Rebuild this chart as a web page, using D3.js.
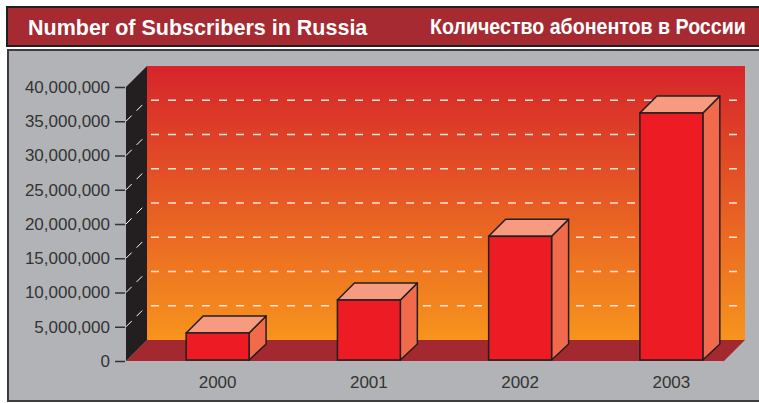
<!DOCTYPE html>
<html>
<head>
<meta charset="utf-8">
<script src="https://cdn.jsdelivr.net/npm/d3@7"></script>
<style>
  body { margin: 0; background: #fff; }
  text { font-family: "Liberation Sans", Arial, sans-serif; }
</style>
</head>
<body>
<div id="chart"></div>
<script>
// data
const years = ["2000", "2001", "2002", "2003"];
const subscribers = [4100000, 8900000, 18200000, 36200000];
const yTicks = [0, 5000000, 10000000, 15000000, 20000000, 25000000, 30000000, 35000000, 40000000];
const titleEn = "Number of Subscribers in Russia";
const titleRu = "Количество абонентов в России";

const W = 759, H = 403;
const wallDepth = 21, barDepth = 17;

const svg = d3.select("#chart").append("svg")
    .attr("width", W)
    .attr("height", H);

// gradient for the back wall
const defs = svg.append("defs");
const grad = defs.append("linearGradient")
    .attr("id", "wallGrad")
    .attr("x1", 0).attr("y1", 0).attr("x2", 0).attr("y2", 1);
grad.append("stop").attr("offset", "0%").attr("stop-color", "#d6242b");
grad.append("stop").attr("offset", "100%").attr("stop-color", "#f7941d");

// title bar
svg.append("rect")
    .attr("x", 7).attr("y", 7)
    .attr("width", 770).attr("height", 39)
    .attr("fill", "#a52a31")
    .attr("stroke", "#231f20")
    .attr("stroke-width", 2);

svg.append("text")
    .attr("x", 28).attr("y", 35)
    .attr("fill", "#fff")
    .attr("font-size", 21.5)
    .attr("font-weight", "bold")
    .text(titleEn);

// russian title is condensed: squeeze it horizontally to fit
const ru = svg.append("text")
    .attr("x", 0).attr("y", 0)
    .attr("fill", "#fff")
    .attr("font-size", 22)
    .attr("font-weight", "bold")
    .text(titleRu);
const ruW = ru.node().getComputedTextLength();
ru.attr("transform", `translate(430,34) scale(${316 / ruW},1)`);

// gray panel
svg.append("rect")
    .attr("x", 8).attr("y", 50)
    .attr("width", 770).attr("height", 351)
    .attr("fill", "#b2b3b6")
    .attr("stroke", "#3c3c3e")
    .attr("stroke-width", 2);

// scales
const y = d3.scaleLinear()
    .domain([0, 40000000])
    .range([361, 87]);

const x = d3.scaleBand()
    .domain(years)
    .range([142, 747])
    .paddingInner(0.584)
    .paddingOuter(0.292);

const left = 126, right = 724;
const y0 = y(0);

// back wall
svg.append("rect")
    .attr("x", left + wallDepth)
    .attr("y", y(40000000) - wallDepth)
    .attr("width", right - left)
    .attr("height", y0 - y(40000000))
    .attr("fill", "url(#wallGrad)");

// dashed gridlines on the back wall
svg.append("g")
    .selectAll("line")
    .data(yTicks.filter(d => d > 0 && d < 40000000))
    .join("line")
    .attr("x1", left + wallDepth + 4)
    .attr("x2", right + wallDepth)
    .attr("y1", d => y(d) - wallDepth)
    .attr("y2", d => y(d) - wallDepth)
    .attr("stroke", "#fbe3d8")
    .attr("stroke-width", 1.3)
    .attr("stroke-dasharray", "8,9");

// floor
svg.append("polygon")
    .attr("points", [
        [left, y0], [left + wallDepth, y0 - wallDepth],
        [right + wallDepth, y0 - wallDepth], [right, y0]
    ].join(" "))
    .attr("fill", "#a3282f");

// left wall
svg.append("polygon")
    .attr("points", [
        [left, y0], [left, y(40000000)],
        [left + wallDepth, y(40000000) - wallDepth], [left + wallDepth, y0 - wallDepth]
    ].join(" "))
    .attr("fill", "#231f20");

// slashes on the left wall
svg.append("g")
    .selectAll("line")
    .data(yTicks.filter(d => d > 0 && d < 40000000))
    .join("line")
    .attr("x1", left)
    .attr("y1", d => y(d))
    .attr("x2", left + wallDepth)
    .attr("y2", d => y(d) - wallDepth)
    .attr("stroke", "#fff")
    .attr("stroke-width", 1)
    .attr("stroke-dasharray", "8,7");

// y axis
const yAxis = svg.append("g")
    .attr("transform", `translate(${left - 1},0)`)
    .call(d3.axisLeft(y)
        .tickValues(yTicks)
        .tickFormat(d3.format(","))
        .tickSize(10)
        .tickPadding(5));
yAxis.select(".domain").remove();
yAxis.selectAll(".tick line").attr("stroke", "#333").attr("stroke-width", 1.5);
yAxis.selectAll(".tick text")
    .attr("fill", "#333")
    .attr("font-size", 17)
    .attr("font-family", "'Liberation Sans', Arial, sans-serif");

// bars
const bars = svg.append("g")
    .selectAll("g")
    .data(years.map((yr, i) => ({ year: yr, value: subscribers[i] })))
    .join("g");

const bw = x.bandwidth();

bars.append("polygon") // side
    .attr("points", d => {
        const bx = x(d.year), by = y(d.value);
        return [[bx + bw, by], [bx + bw + barDepth, by - barDepth],
            [bx + bw + barDepth, y0 - barDepth], [bx + bw, y0 - 1]].join(" ");
    })
    .attr("fill", "#f26a4c")
    .attr("stroke", "#231f20")
    .attr("stroke-width", 1.5)
    .attr("stroke-linejoin", "round");

bars.append("polygon") // top
    .attr("points", d => {
        const bx = x(d.year), by = y(d.value);
        return [[bx, by], [bx + barDepth, by - barDepth],
            [bx + bw + barDepth, by - barDepth], [bx + bw, by]].join(" ");
    })
    .attr("fill", "#f69b80")
    .attr("stroke", "#231f20")
    .attr("stroke-width", 1.5)
    .attr("stroke-linejoin", "round");

bars.append("rect") // front
    .attr("x", d => x(d.year))
    .attr("y", d => y(d.value))
    .attr("width", bw)
    .attr("height", d => y0 - 1 - y(d.value))
    .attr("fill", "#ed1c24")
    .attr("stroke", "#231f20")
    .attr("stroke-width", 1.5);

// year labels
svg.append("g")
    .selectAll("text")
    .data(years)
    .join("text")
    .attr("x", d => x(d) + bw / 2)
    .attr("y", 388)
    .attr("text-anchor", "middle")
    .attr("fill", "#333")
    .attr("font-size", 17)
    .text(d => d);
</script>
</body>
</html>
